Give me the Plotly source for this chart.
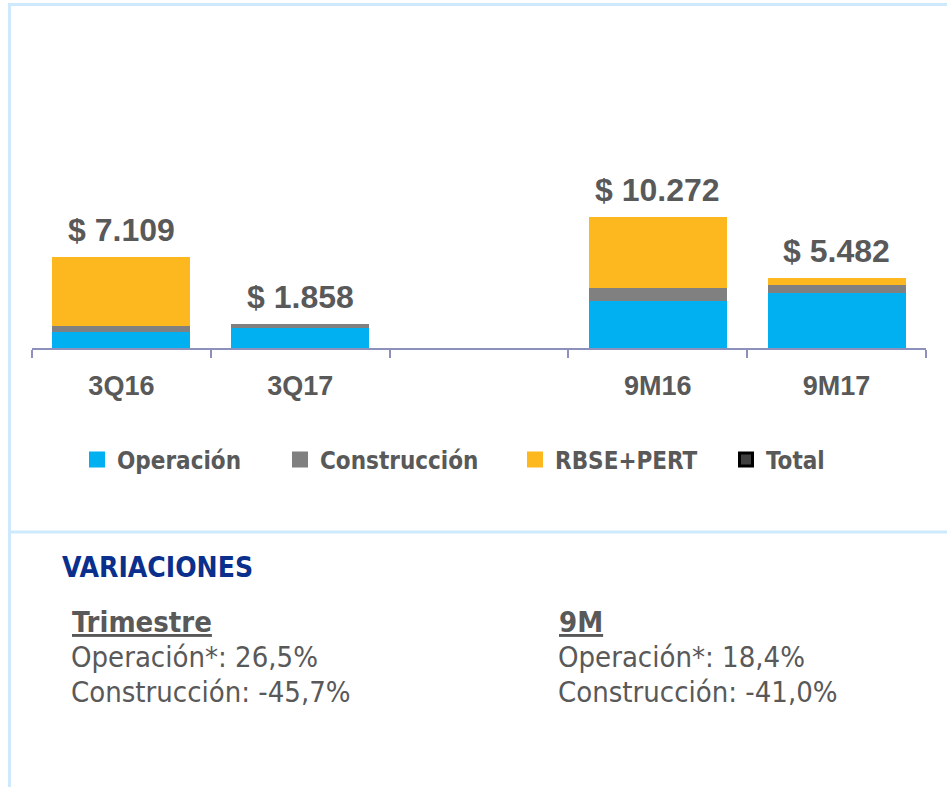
import plotly.graph_objects as go

# ---------------- data ----------------
categories = ["3Q16", "3Q17", " ", "9M16", "9M17"]
operacion = [1260, 1594, None, 3650, 4322]
construccion = [470, 264, None, 1050, 620]
rbse_pert = [5379, 0, None, 5572, 540]
totals = [7109, 1858, None, 10272, 5482]

series_names = ["Operación", "Construcción", "RBSE+PERT", "Total"]
variation_title = "VARIACIONES"
var_trim_head = "Trimestre"
var_trim_lines = ["Operación*: 26,5%", "Construcción: -45,7%"]
var_9m_head = "9M"
var_9m_lines = ["Operación*: 18,4%", "Construcción: -41,0%"]

# ---------------- layout geometry ----------------
W, H = 947, 787
L, R, T, B = 32, 21, 20, 439
PW = W - L - R
PH = H - T - B
YMAX = PH * 78.4


def xp(px):
    return (px - L) / PW


def yp(py):
    return (H - B - py) / PH


BLUE = "#00B0F0"
GREY = "#808080"
GOLD = "#FDB71F"
TXT = "#595959"
FRAME = "#CDE9FB"
AXIS = "#8C90BA"
TAHOMA = "DejaVu Sans Condensed, DejaVu Sans, sans-serif"
ARIAL = "Liberation Sans, Arial, sans-serif"

fig = go.Figure()
for vals, name, col in [(operacion, series_names[0], BLUE),
                        (construccion, series_names[1], GREY),
                        (rbse_pert, series_names[2], GOLD)]:
    fig.add_trace(go.Bar(x=categories, y=vals, name=name, showlegend=False,
                         marker=dict(color=col, line=dict(width=0))))

# legend entries
for name, col, lw, border, bw in [(series_names[0], BLUE, 158, BLUE, 0),
                                  (series_names[1], GREY, 190, GREY, 0),
                                  (series_names[2], GOLD, 166, GOLD, 0),
                                  (series_names[3], "#404040", 80, "#000000", 3)]:
    fig.add_trace(go.Scatter(x=[None], y=[None], mode="markers", name=name, legendwidth=lw,
                             marker=dict(symbol="square", size=16 if bw == 0 else 13, color=col,
                                         line=dict(color=border, width=bw))))

annotations = []
for c, t in zip(categories, totals):
    if t is None:
        continue
    annotations.append(dict(
        x=c, y=t, xref="x", yref="y", text="$ " + f"{t:,}".replace(",", "."),
        showarrow=False, yanchor="bottom", yshift=7,
        font=dict(family=ARIAL, size=32, color=TXT, weight="bold")))

annotations.append(dict(x=xp(60), y=yp(567), xref="paper", yref="paper",
                        xanchor="left", yanchor="middle", showarrow=False,
                        text="<b>" + variation_title + "</b>",
                        font=dict(family=TAHOMA, size=28, color="#0A2F8C")))

for x0, head, lines in [(70, var_trim_head, var_trim_lines), (557, var_9m_head, var_9m_lines)]:
    annotations.append(dict(x=xp(x0), y=yp(622), xref="paper", yref="paper",
                            xanchor="left", yanchor="middle", showarrow=False,
                            text="<b><u>" + head + "</u></b>",
                            font=dict(family=TAHOMA, size=29, color=TXT)))
    for i, ln in enumerate(lines):
        annotations.append(dict(x=xp(x0 - 1), y=yp(657 + 35 * i), xref="paper", yref="paper",
                                xanchor="left", yanchor="middle", showarrow=False,
                                text=ln, font=dict(family=TAHOMA, size=29, color=TXT)))

shapes = [
    dict(type="line", xref="paper", yref="paper", x0=xp(8), x1=xp(947), y0=yp(4.5), y1=yp(4.5),
         line=dict(color=FRAME, width=3), layer="below"),
    dict(type="line", xref="paper", yref="paper", x0=xp(9.5), x1=xp(9.5), y0=yp(3), y1=yp(787),
         line=dict(color=FRAME, width=3), layer="below"),
    dict(type="line", xref="paper", yref="paper", x0=xp(9), x1=xp(947), y0=yp(532), y1=yp(532),
         line=dict(color=FRAME, width=3), layer="below"),
]

fig.update_layout(
    width=W, height=H,
    margin=dict(l=L, r=R, t=T, b=B, pad=0),
    paper_bgcolor="white", plot_bgcolor="white",
    barmode="stack", bargap=0.228,
    showlegend=True,
    legend=dict(orientation="h", x=xp(77), y=yp(460), xanchor="left", yanchor="middle",
                traceorder="normal", bgcolor="rgba(0,0,0,0)",
                font=dict(family=TAHOMA, size=24, color=TXT, weight="bold")),
    xaxis=dict(type="category", range=[-0.5, 4.5], showline=True, linecolor=AXIS, linewidth=2,
               ticks="outside", tickson="boundaries", ticklen=8, tickwidth=2, tickcolor=AXIS,
               showgrid=False, zeroline=False, fixedrange=True, ticklabelstandoff=13,
               tickfont=dict(family=ARIAL, size=27, color=TXT, weight="bold")),
    yaxis=dict(range=[0, YMAX], visible=False, showgrid=False, zeroline=False, fixedrange=True),
    annotations=annotations,
    shapes=shapes,
)

fig.write_html("out.html", config={"displayModeBar": False},
               post_script="document.body.style.margin='0';document.body.style.overflow='hidden';")
